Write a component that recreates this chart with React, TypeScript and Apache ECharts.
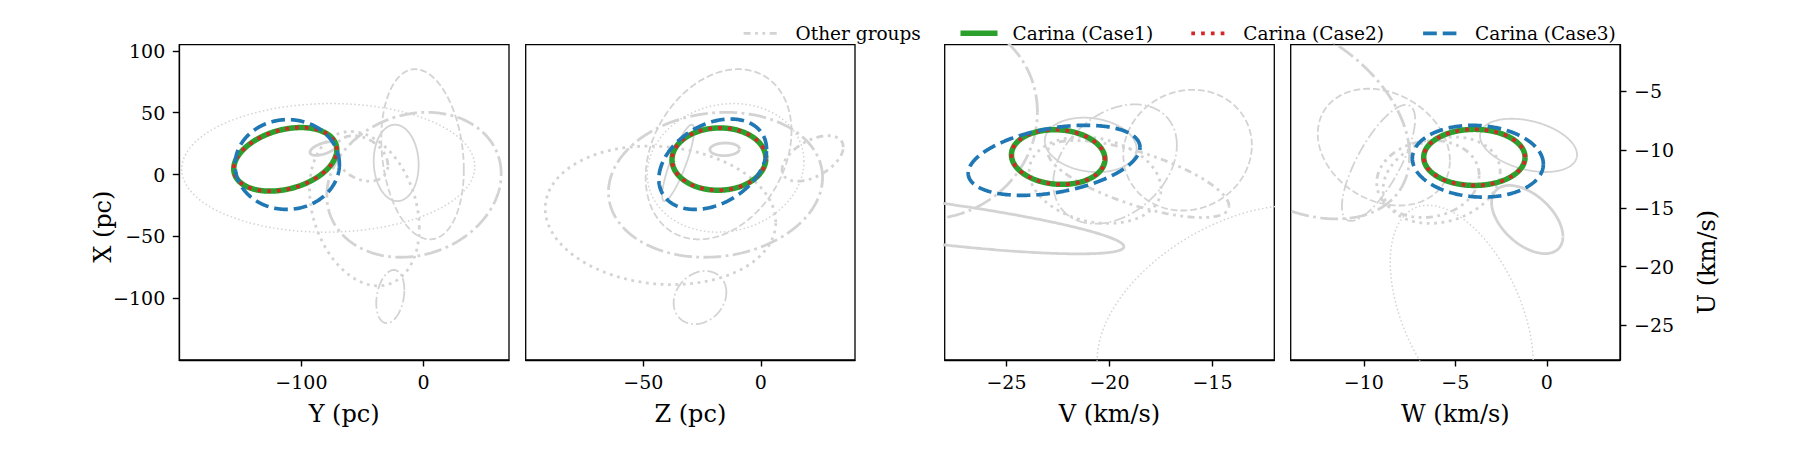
import React, { useEffect, useRef } from "react";
import * as echarts from "echarts";

// Ellipse rows: [centre (horizontal), centre (vertical), half-extent (horizontal), half-extent (vertical), correlation]
// Row order of the other groups: dash-dot-dot, thin solid, thick solid, dashed, thick dash-dot, thin dotted, thick dotted, thin dash-dot

// X vs Y (pc)
const otherXY = [
  [-50.8, 13.0, 21.6, 18.4, -0.3],
  [-22.4, 9.4, 18.4, 30.9, -0.05],
  [-82.0, 21.0, 11.0, 5.5, 0.55],
  [-0.8, 16.4, 33.8, 68.8, -0.18],
  [-7.8, -8.3, 71.4, 58.6, 0.15],
  [-78.0, 5.4, 120.0, 52.0, 0.02],
  [-48.4, -27.6, 44.9, 62.4, -0.25],
  [-27.2, -98.7, 11.5, 21.5, 0.25],
];
// X vs Z (pc)
const otherXZ = [
  [22.0, 13.0, 13.0, 18.4, 0.5],
  [-35.2, 9.4, 6.8, 30.9, 0.85],
  [-15.4, 20.4, 6.3, 5.1, 0.05],
  [-18.0, 16.4, 31.0, 68.8, 0.27],
  [-19.3, -8.3, 45.5, 58.6, 0.1],
  [-15.0, 5.4, 33.3, 52.0, 0.1],
  [-42.7, -33.0, 49.0, 56.0, -0.1],
  [-25.9, -99.5, 11.2, 21.5, 0.2],
];
// U vs V (km/s)
const otherUV = [
  [-18.6, -12.5, 4.4, 3.3, -0.7],
  [-20.91, -9.58, 2.23, 2.33, -0.15],
  [-29.8, -15.98, 10.5, 2.93, -0.79],
  [-16.21, -10.03, 3.12, 5.17, 0.08],
  [-28.6, -7.21, 5.1, 8.71, 0.05],
  [-13.89, -24.0, 6.71, 9.25, 0.43],
  [-20.7, -12.6, 3.2, 3.7, -0.2],
  [-19.73, -11.22, 3.0, 5.11, 0.32],
];
// U vs W (km/s)
const otherUW = [
  [-6.5, -12.5, 2.8, 3.3, 0.1],
  [-1.0, -9.62, 2.65, 2.28, -0.35],
  [-1.07, -15.97, 1.95, 2.92, -0.5],
  [-8.91, -9.77, 3.61, 5.0, -0.23],
  [-13.93, -7.21, 6.43, 8.71, -0.378],
  [-4.65, -24.0, 3.91, 9.25, -0.47],
  [-5.75, -12.6, 3.2, 3.7, 0.2],
  [-9.2, -11.12, 2.0, 4.97, 0.75],
];

// Carina, one row per panel: XY, XZ, UV, UW
const carinaCase1 = [
  [-113.2, 12.3, 42.2, 25.7, 0.3],
  [-17.85, 12.5, 19.95, 25.2, 0.02],
  [-22.49, -10.62, 2.27, 2.34, -0.08],
  [-3.96, -10.65, 2.77, 2.4, 0.0],
];
const carinaCase2 = [
  [-113.2, 12.3, 42.2, 25.7, 0.3],
  [-17.85, 12.5, 19.95, 25.2, 0.02],
  [-22.49, -10.62, 2.27, 2.34, -0.08],
  [-3.96, -10.65, 2.77, 2.4, 0.0],
];
const carinaCase3 = [
  [-111.6, 8.1, 42.7, 36.3, 0.01],
  [-20.5, 8.35, 22.9, 36.55, 0.33],
  [-22.69, -10.9, 4.17, 3.0, 0.37],
  [-3.77, -10.98, 3.58, 3.07, -0.08],
];

const xTitles = ["Y (pc)", "Z (pc)", "V (km/s)", "W (km/s)"];
const xRanges = [[-200, 70], [-100, 40], [-28, -12], [-14, 4]];
const xTicks = [[-100, 0], [-50, 0], [-25, -20, -15], [-10, -5, 0]];
const yRanges = [[-150, 105], [-150, 105], [-28, -1], [-28, -1]];
const leftTicks = [-100, -50, 0, 50, 100];
const rightTicks = [-25, -20, -15, -10, -5];
const yTitles = ["X (pc)", "U (km/s)"];
const legendLabels = ["Other groups", "Carina (Case1)", "Carina (Case2)", "Carina (Case3)"];

const otherPanels = [otherXY, otherXZ, otherUV, otherUW];

const GRAY = "#d3d3d3";
const FONT = "DejaVu Serif";
const TICK_FONT = 19;
const TITLE_FONT = 24;
const otherStyles: any[] = [
  { width: 2.8, type: [7, 4.5, 2.8, 4.5, 2.8, 4.5] },
  { width: 1.8, type: "solid" },
  { width: 2.8, type: "solid" },
  { width: 1.8, type: [6.8, 3] },
  { width: 2.8, type: [17.8, 4.4, 2.8, 4.4] },
  { width: 1.5, type: [1.5, 2.5] },
  { width: 2.8, type: [2.8, 4.6] },
  { width: 1.8, type: [11.8, 3, 1.8, 3] },
];
const caseStyles: any[] = [
  { color: "#2ca02c", width: 5.5, type: "solid" },
  { color: "#d62728", width: 3.7, type: [3.7, 6.1] },
  { color: "#1f77b4", width: 3.7, type: [13.7, 5.9] },
];

const PLOT_TOP = 44.7;
const PLOT_HEIGHT = 315.3;
const gridBoxes = [
  { left: 179.3, width: 329.7 },
  { left: 525.7, width: 329.3 },
  { left: 944.7, width: 329.6 },
  { left: 1290.7, width: 329.3 },
];

const STEPS = 360;
function outline(e: number[]): number[][] {
  const [ch, cv, sh, sv, r] = e;
  const q = Math.sqrt(1 - r * r);
  const pts: number[][] = [];
  for (let i = 0; i <= STEPS; i++) {
    const t = (2 * Math.PI * i) / STEPS;
    pts.push([ch + sh * Math.cos(t), cv + sv * (r * Math.cos(t) + q * Math.sin(t))]);
  }
  return pts;
}

const minus = (v: number) => String(v).replace("-", "\u2212");

const frameLine = { show: true, onZero: false, lineStyle: { color: "#000", width: 1.3 } };
const tickStyle = (values: number[]) => ({
  show: true,
  length: 6.5,
  lineStyle: { color: "#000", width: 1.4 },
  customValues: values,
});
const labelStyle = (values: number[], margin: number) => ({
  customValues: values,
  formatter: minus,
  fontFamily: FONT,
  fontSize: TICK_FONT,
  color: "#000",
  margin,
});

function buildOption() {
  const grid = gridBoxes.map((g) => ({
    left: g.left,
    width: g.width,
    top: PLOT_TOP,
    height: PLOT_HEIGHT,
    show: true,
    borderColor: "#000",
    borderWidth: 1.3,
    backgroundColor: "transparent",
  }));

  const xAxis = xTitles.map((title, i) => ({
    type: "value",
    gridIndex: i,
    position: "bottom",
    min: xRanges[i][0],
    max: xRanges[i][1],
    splitLine: { show: false },
    axisLine: frameLine,
    axisTick: tickStyle(xTicks[i]),
    axisLabel: labelStyle(xTicks[i], 12),
    name: title,
    nameLocation: "middle",
    nameGap: 42,
    nameTextStyle: { fontFamily: FONT, fontSize: TITLE_FONT, color: "#000" },
  }));

  const hiddenY = (i: number) => ({
    type: "value",
    gridIndex: i,
    min: yRanges[i][0],
    max: yRanges[i][1],
    splitLine: { show: false },
    axisLine: { show: false, onZero: false },
    axisTick: { show: false },
    axisLabel: { show: false },
  });

  const yAxis: any[] = [
    {
      type: "value",
      gridIndex: 0,
      position: "left",
      min: yRanges[0][0],
      max: yRanges[0][1],
      splitLine: { show: false },
      axisLine: frameLine,
      axisTick: tickStyle(leftTicks),
      axisLabel: labelStyle(leftTicks, 14),
    },
    hiddenY(1),
    hiddenY(2),
    {
      type: "value",
      gridIndex: 3,
      position: "right",
      min: yRanges[3][0],
      max: yRanges[3][1],
      splitLine: { show: false },
      axisLine: frameLine,
      axisTick: tickStyle(rightTicks),
      axisLabel: labelStyle(rightTicks, 14),
    },
  ];

  const series: any[] = [];
  otherPanels.forEach((rows, p) => {
    rows.forEach((row, g) => {
      series.push({
        type: "line",
        name: legendLabels[0],
        xAxisIndex: p,
        yAxisIndex: p,
        data: outline(row),
        symbol: "none",
        silent: true,
        lineStyle: { color: GRAY, width: otherStyles[g].width, type: otherStyles[g].type },
      });
    });
  });
  [carinaCase1, carinaCase2, carinaCase3].forEach((rows, c) => {
    rows.forEach((row, p) => {
      series.push({
        type: "line",
        name: legendLabels[c + 1],
        xAxisIndex: p,
        yAxisIndex: p,
        data: outline(row),
        symbol: "none",
        silent: true,
        lineStyle: { ...caseStyles[c] },
      });
    });
  });

  const graphic: any[] = [];

  // vertical axis titles, set a little below the middle of the frames
  const yTitlePos = [
    { x: 102.5, y: 226.7 },
    { x: 1707, y: 262 },
  ];
  yTitles.forEach((t, i) => {
    graphic.push({
      type: "text",
      x: yTitlePos[i].x,
      y: yTitlePos[i].y,
      rotation: Math.PI / 2,
      silent: true,
      style: {
        text: t,
        fontFamily: FONT,
        fontSize: TITLE_FONT,
        fill: "#000",
        align: "center",
        verticalAlign: "middle",
      },
    });
  });

  // legend drawn as short sample lines followed by their labels
  const legendY = 33.3;
  const legendStarts = [743.6, 960.5, 1191.3, 1423.1];
  const legendLines = [
    { stroke: GRAY, lineWidth: otherStyles[0].width, lineDash: otherStyles[0].type },
    { stroke: caseStyles[0].color, lineWidth: caseStyles[0].width, lineDash: null },
    { stroke: caseStyles[1].color, lineWidth: caseStyles[1].width, lineDash: caseStyles[1].type },
    { stroke: caseStyles[2].color, lineWidth: caseStyles[2].width, lineDash: caseStyles[2].type },
  ];
  legendLabels.forEach((label, i) => {
    const x0 = legendStarts[i];
    graphic.push({
      type: "line",
      shape: { x1: x0, y1: legendY, x2: x0 + 37, y2: legendY },
      style: { ...legendLines[i], lineCap: "butt" },
      silent: true,
    });
    graphic.push({
      type: "text",
      x: x0 + 52,
      y: legendY,
      style: { text: label, fontFamily: FONT, fontSize: 18.5, fill: "#000", verticalAlign: "middle", align: "left" },
      silent: true,
    });
  });

  return { animation: false, backgroundColor: "#fff", grid, xAxis, yAxis, series, graphic };
}

export default function App() {
  const ref = useRef<HTMLDivElement>(null);
  useEffect(() => {
    if (!ref.current) return;
    const chart = echarts.init(ref.current, undefined, { renderer: "svg" });
    chart.setOption(buildOption() as any);
    return () => chart.dispose();
  }, []);
  return (
    <div
      ref={ref}
      style={{ position: "fixed", left: 0, top: 0, width: 1800, height: 450, background: "#fff" }}
    />
  );
}
